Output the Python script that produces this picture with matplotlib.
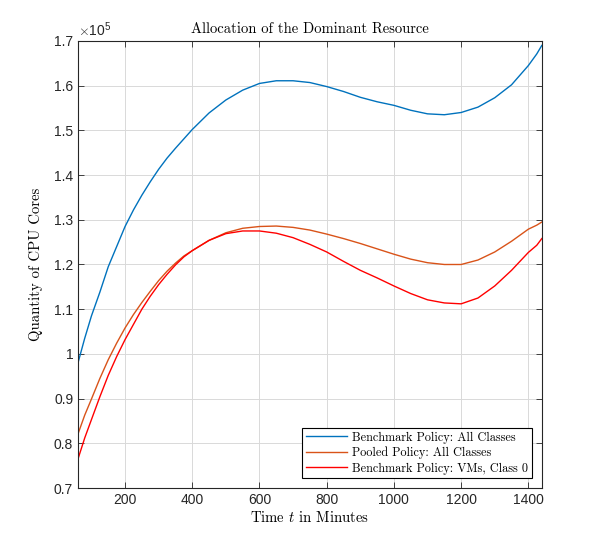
import numpy as np
import matplotlib
matplotlib.use('Agg')
from matplotlib import pyplot as plt
from matplotlib.ticker import FuncFormatter

plt.rcParams['mathtext.fontset'] = 'cm'

# time in minutes
t = [60, 80, 100, 125, 150, 175, 200, 225, 250, 275, 300, 325, 350, 375, 400,
     450, 500, 550, 600, 650, 700, 750, 800, 850, 900, 950, 1000, 1050, 1100,
     1150, 1200, 1250, 1300, 1350, 1400, 1425, 1440]

# CPU cores, in units of 1e5
bench_all = [0.980, 1.035, 1.085, 1.138, 1.195, 1.240, 1.285, 1.322, 1.355, 1.385,
             1.413, 1.438, 1.460, 1.481, 1.502,
             1.539, 1.568, 1.590, 1.605, 1.611, 1.611, 1.607, 1.598, 1.587, 1.574,
             1.564, 1.556, 1.545, 1.537, 1.535, 1.540, 1.552, 1.573, 1.602, 1.645,
             1.671, 1.690]
pooled_all = [0.821, 0.863, 0.899, 0.945, 0.987, 1.024, 1.058, 1.088, 1.115, 1.140,
              1.164, 1.185, 1.203, 1.219, 1.231,
              1.254, 1.271, 1.281, 1.285, 1.286, 1.283, 1.277, 1.268, 1.258, 1.247,
              1.235, 1.223, 1.212, 1.204, 1.200, 1.200, 1.210, 1.228, 1.252, 1.279,
              1.288, 1.295]
bench_vm0 = [0.765, 0.812, 0.853, 0.904, 0.952, 0.994, 1.032, 1.066, 1.100, 1.129,
             1.155, 1.178, 1.199, 1.217, 1.231,
             1.254, 1.269, 1.275, 1.275, 1.270, 1.260, 1.245, 1.228, 1.207, 1.187,
             1.170, 1.152, 1.135, 1.121, 1.114, 1.112, 1.125, 1.152, 1.187, 1.227,
             1.243, 1.258]

labels = ['Benchmark Policy: All Classes', 'Pooled Policy: All Classes',
          'Benchmark Policy: VMs, Class 0']
colors = ['#0072BD', '#D95319', '#FF0000']

fig = plt.figure(figsize=(6, 5.5), dpi=100)
ax = fig.add_axes([0.13, 0.1127, 0.773, 0.8128])

for yy, lab, col in zip([bench_all, pooled_all, bench_vm0], labels, colors):
    ax.plot(t, yy, '-', color=col, linewidth=1.0, label=lab)

ax.set_xlim(60, 1440)
ax.set_ylim(0.7, 1.7)
ax.set_xticks(np.arange(200, 1401, 200))
ax.set_yticks(np.arange(0.7, 1.71, 0.1))
ax.yaxis.set_major_formatter(FuncFormatter(lambda v, p: '%g' % round(v, 2)))

ax.grid(True, color='#d9d9d9', linewidth=0.7)
ax.set_axisbelow(True)
ax.tick_params(direction='in', top=True, right=True, length=4, width=0.6,
               labelsize=10, colors='#262626')
for lbl in ax.get_xticklabels() + ax.get_yticklabels():
    lbl.set_family('Liberation Sans')
for sp in ax.spines.values():
    sp.set_color('#262626')
    sp.set_linewidth(0.8)

ax.text(0.0, 1.005, r'$\times\mathregular{10^5}$', transform=ax.transAxes,
        fontsize=10, color='#262626', ha='left', va='bottom', family='Liberation Sans')

ax.set_title('Allocation of the Dominant Resource', family='cmr10', fontsize=10.5, pad=6)
ax.set_xlabel(r'Time $t$ in Minutes', family='cmr10', fontsize=10.6, labelpad=2)
ax.set_ylabel('Quantity of CPU Cores', family='cmr10', fontsize=10.6, labelpad=8)

leg = ax.legend(loc='lower right', prop={'family': 'cmr10', 'size': 8.8},
                fancybox=False, edgecolor='black', framealpha=1,
                borderaxespad=0.8, handlelength=3.4, borderpad=0.3,
                labelspacing=0.25, handletextpad=0.4)
leg.get_frame().set_linewidth(0.8)

fig.savefig('out.png', dpi=100)
